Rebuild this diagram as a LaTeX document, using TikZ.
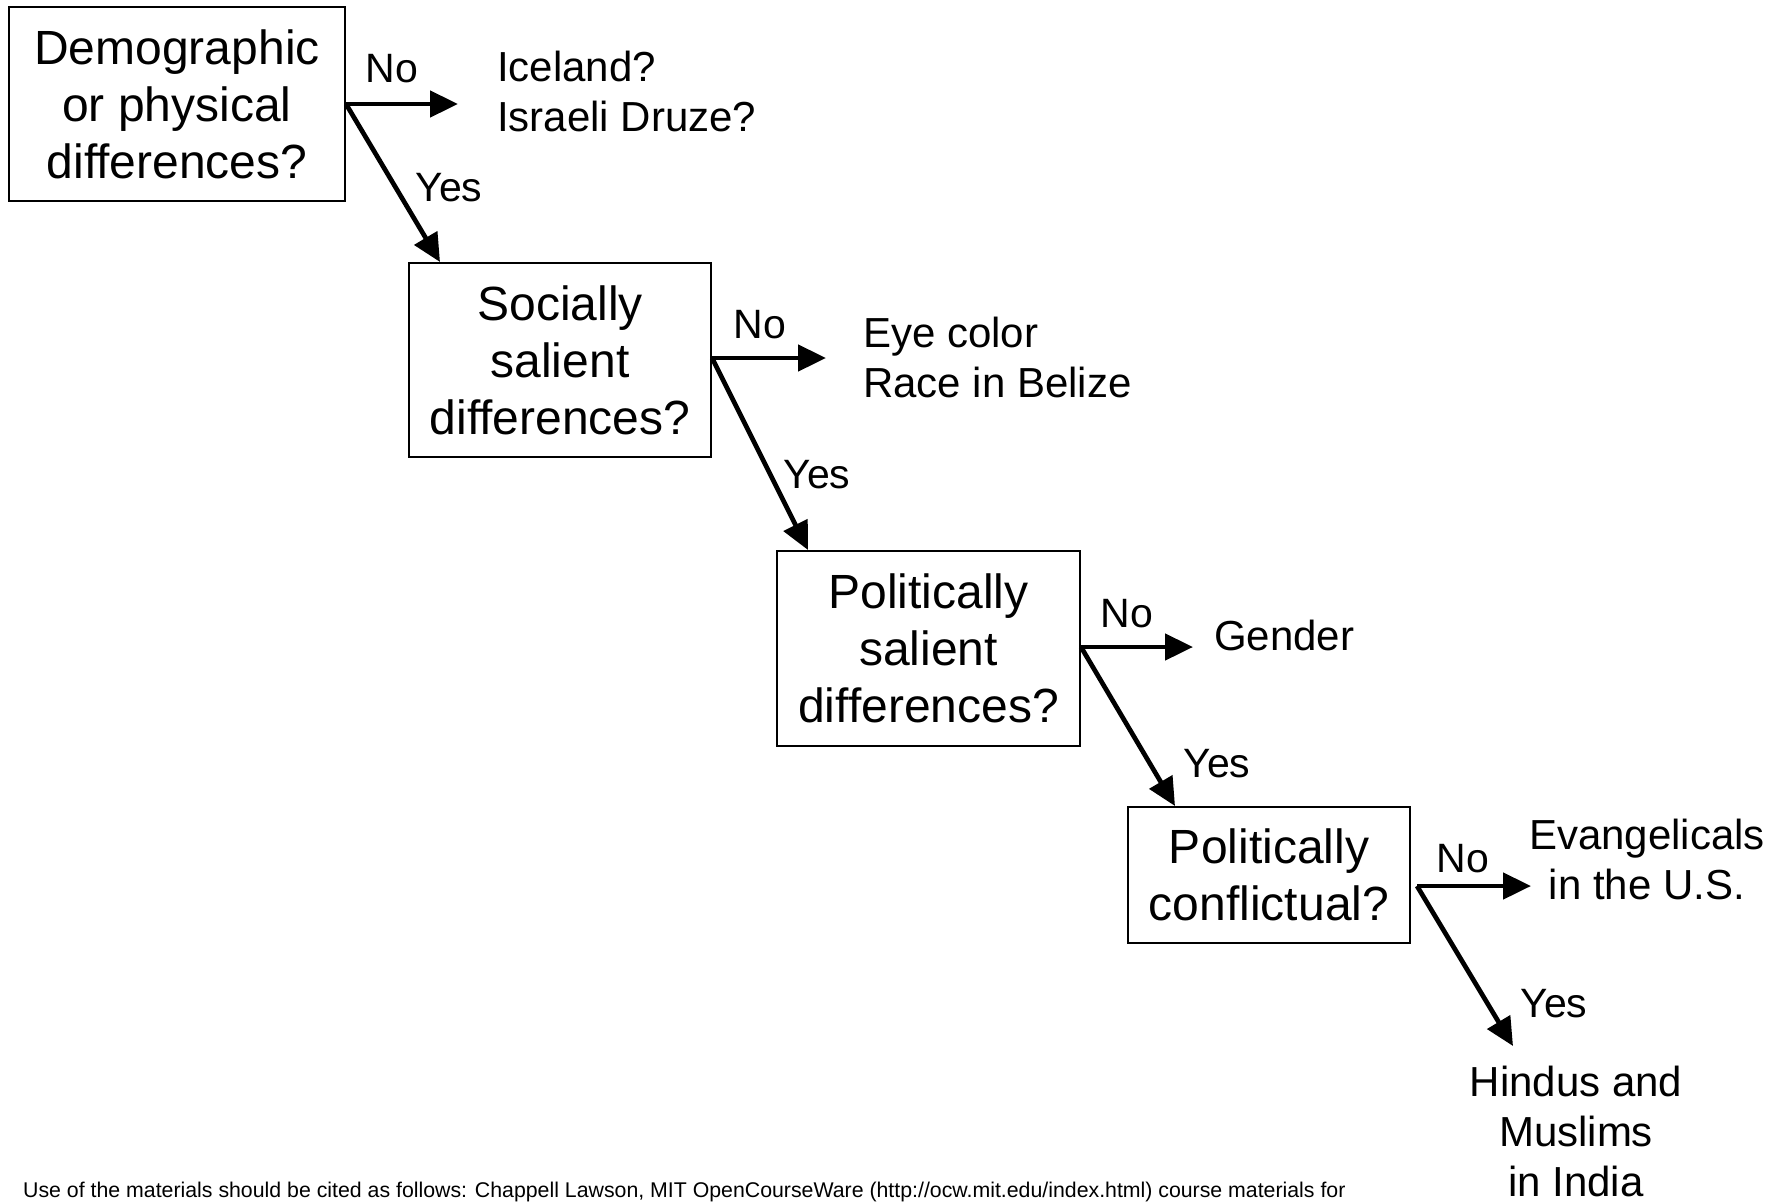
\documentclass[tikz,border=0pt]{standalone}
\usepackage{fontspec}
\setmainfont{Liberation Sans}
\usetikzlibrary{arrows.meta,positioning}
\tikzset{
    question/.style={draw, line width=2pt, align=center, inner sep=0pt,
        font=\fontsize{48}{57}\selectfont},
    answer/.style={align=center, inner sep=0pt,
        font=\fontsize{42}{50}\selectfont},
    lbl/.style={inner sep=0pt, font=\fontsize{41}{49}\selectfont},
    branch/.style={line width=4.7pt, -{Triangle[length=28pt,width=26pt]}}
}

\begin{document}
\begin{tikzpicture}[x=1pt,y=-1pt]
\useasboundingbox (0,0) rectangle (1782,1203);

% questions
\node[question, minimum width=336pt, minimum height=194pt] (q1) at (177,104)
    {Demographic\\or physical\\differences?};
\node[question, minimum width=302pt, minimum height=194pt] (q2) at (560,360)
    {Socially\\salient\\differences?};
\node[question, minimum width=303pt, minimum height=195pt] (q3) at (928.5,648.5)
    {Politically\\salient\\differences?};
\node[question, minimum width=282pt, minimum height=136pt] (q4) at (1269,875)
    {Politically\\conflictual?};

% answers
\node[answer, align=left, anchor=west] (a1) at (497,91) {Iceland?\\Israeli Druze?};
\node[answer, align=left, anchor=west] (a2) at (863,357) {Eye color\\Race in Belize};
\node[answer, anchor=west] (a3) at (1214,635) {Gender};
\node[answer] (a4) at (1647,859) {Evangelicals\\in the U.S.};
\node[answer] (a5) at (1576,1131) {Hindus and\\Muslims\\in India};

% arrow ends
\coordinate (n1) at ([xshift=112pt]q1.east);
\coordinate (n2) at ([xshift=114pt,yshift=2pt]q2.east);
\coordinate (n3) at ([xshift=112pt,yshift=1.5pt]q3.east);
\coordinate (s4) at ([xshift=6pt,yshift=-11pt]q4.east);
\coordinate (n4) at ([xshift=114pt]s4);
\coordinate (y1) at ([xshift=32pt]q2.north west);
\coordinate (y2) at ([xshift=32pt]q3.north west);
\coordinate (y3) at ([xshift=48pt]q4.north west);
\coordinate (y4) at (1513,1046);

\draw[branch] (q1.east) -- (n1);
\draw[branch] (q1.east) -- (y1);
\draw[branch] ([yshift=2pt]q2.east) -- (n2);
\draw[branch] ([yshift=2pt]q2.east) -- (y2);
\draw[branch] ([yshift=1.5pt]q3.east) -- (n3);
\draw[branch] ([yshift=1.5pt]q3.east) -- (y3);
\draw[branch] (s4) -- (n4);
\draw[branch] (s4) -- (y4);

% labels
\node[lbl] (no1) at (392,69) {No};
\node[lbl] (yes1) at (449,188) {Yes};
\node[lbl] (no2) at (760,325) {No};
\node[lbl] (yes2) at (817,475) {Yes};
\node[lbl] (no3) at (1127,614) {No};
\node[lbl] (yes3) at (1217,764) {Yes};
\node[lbl] (no4) at (1463,859) {No};
\node[lbl] (yes4) at (1554,1004) {Yes};

\node[anchor=west, inner sep=0pt, font=\fontsize{21.3}{25}\selectfont] (cite) at (23,1192)
    {Use of the materials should be cited as follows: Chappell Lawson, MIT OpenCourseWare (http://ocw.mit.edu/index.html) course materials for};
\end{tikzpicture}
\end{document}
